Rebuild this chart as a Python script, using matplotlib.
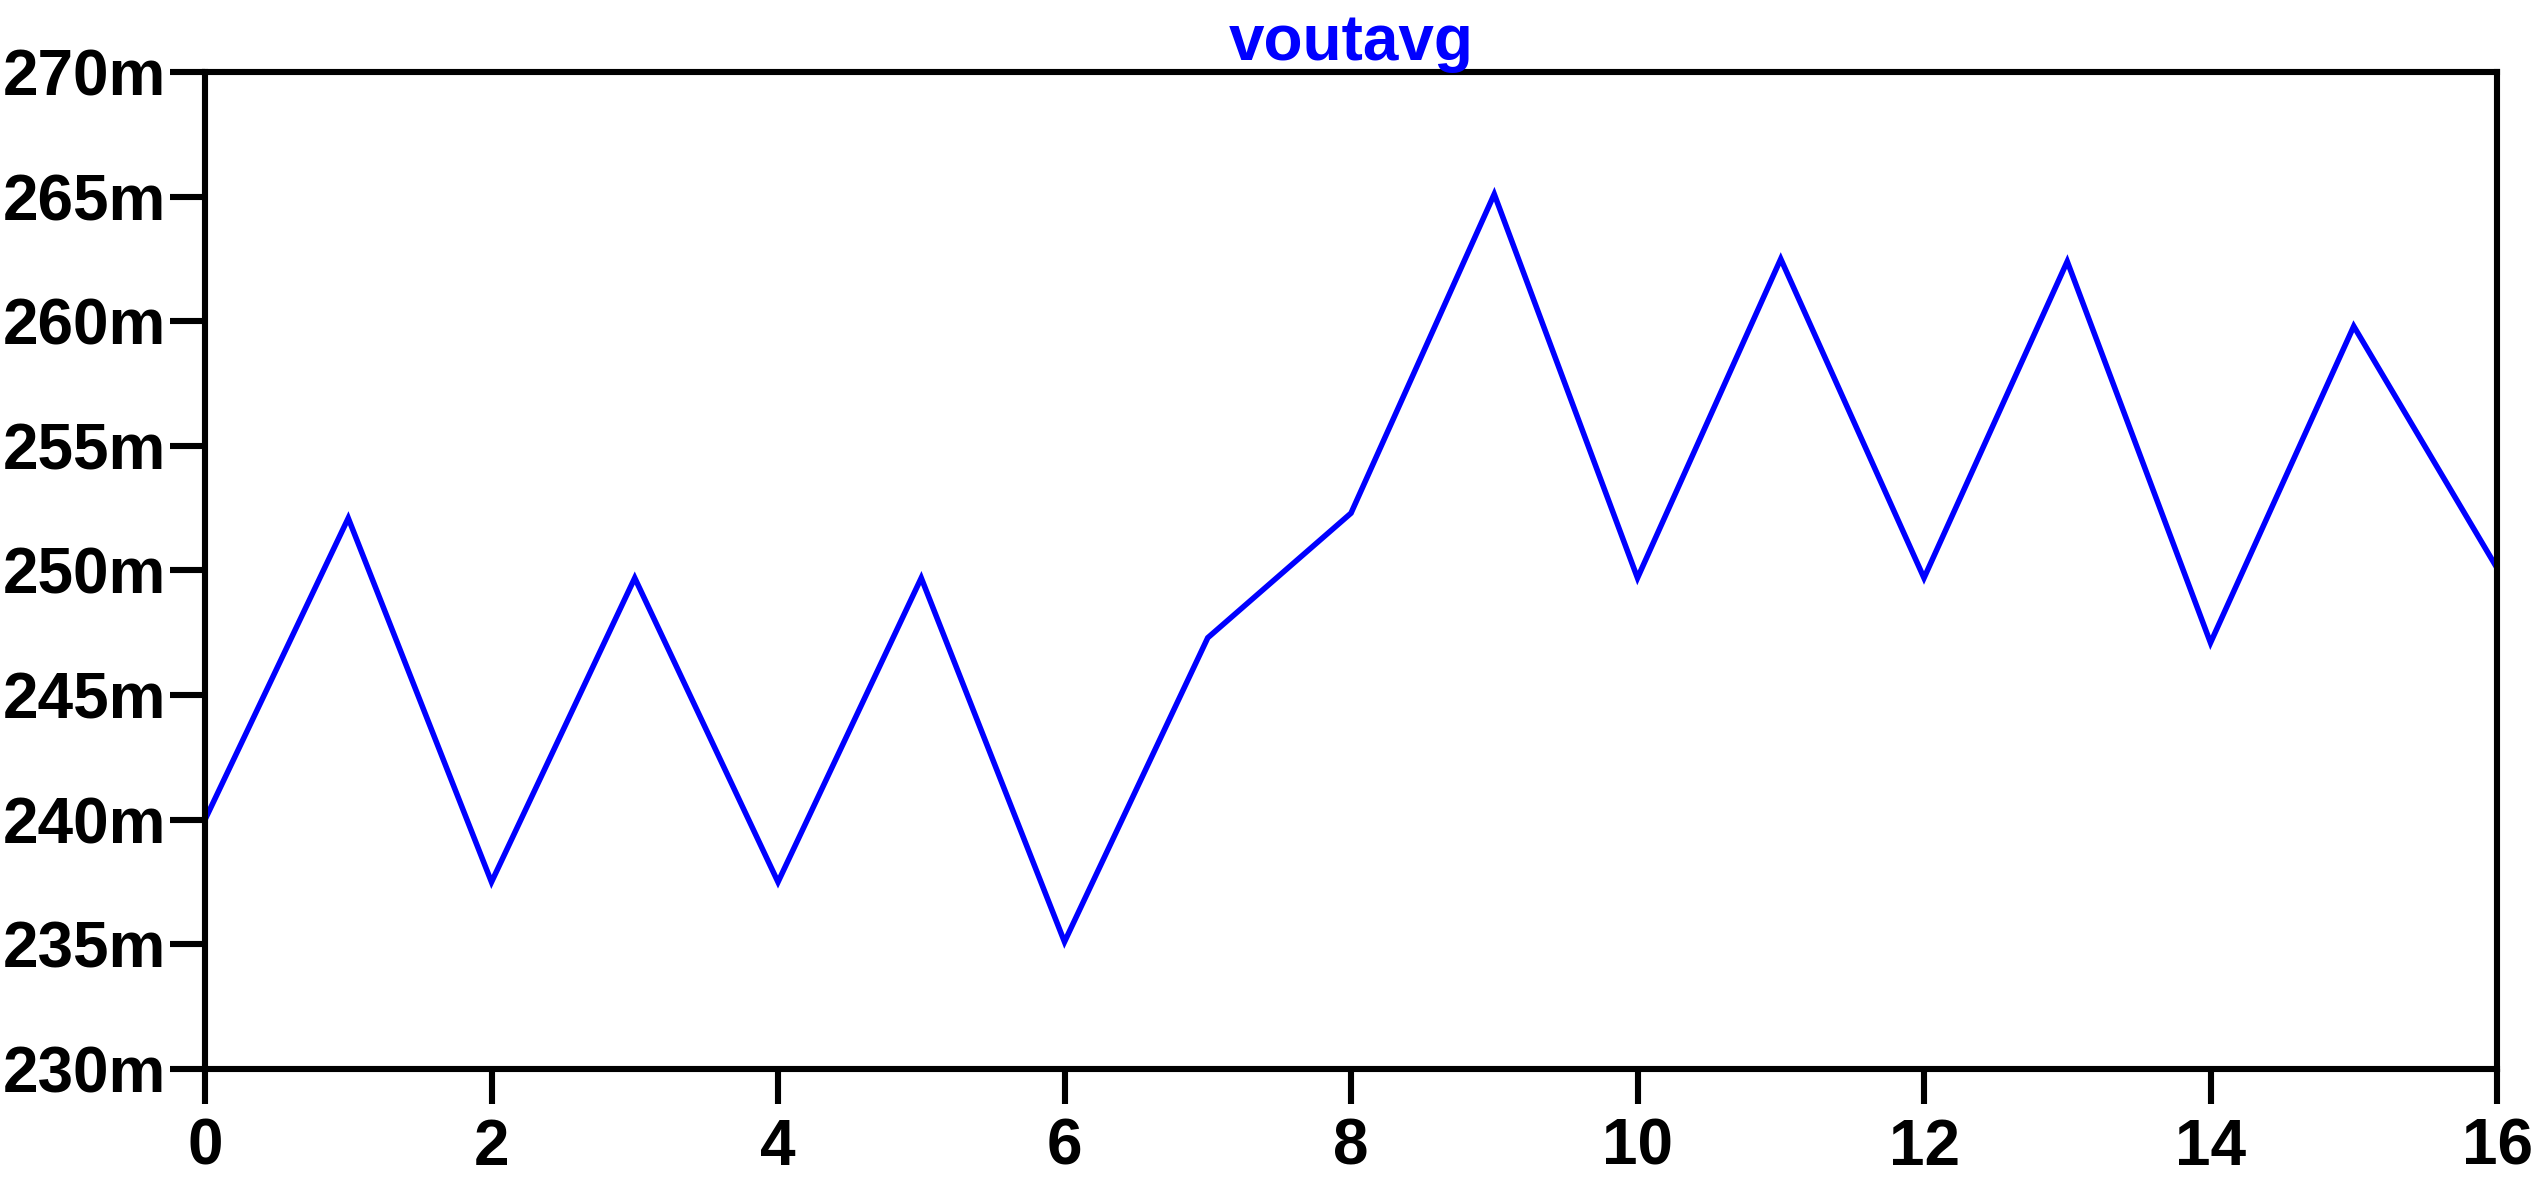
import matplotlib
matplotlib.use("Agg")
import matplotlib.pyplot as plt

# voutavg waveform points (V)
x = [0, 1, 2, 3, 4, 5, 6, 7, 8, 9, 10, 11, 12, 13, 14, 15, 16]
voutavg = [0.2400, 0.2521, 0.2375, 0.2497, 0.2375, 0.2497, 0.2351, 0.2473, 0.2523,
           0.2651, 0.2497, 0.2625, 0.2497, 0.2624, 0.2471, 0.2598, 0.2501]

xticks = [0, 2, 4, 6, 8, 10, 12, 14, 16]
yticks = [0.230, 0.235, 0.240, 0.245, 0.250, 0.255, 0.260, 0.265, 0.270]
ylabels = ["230m", "235m", "240m", "245m", "250m", "255m", "260m", "265m", "270m"]

plt.rcParams['font.family'] = ['Liberation Sans', 'DejaVu Sans']
plt.rcParams['font.weight'] = 'bold'

fig = plt.figure(figsize=(25.34, 11.77), dpi=100)
ax = fig.add_axes([0.0809, 0.0918, 0.9045, 0.847])

ax.plot(x, voutavg, color='#0000ff', lw=4.0, solid_joinstyle='miter')

ax.set_xlim(0, 16)
ax.set_ylim(0.230, 0.270)
ax.set_xticks(xticks)
ax.set_xticklabels([str(t) for t in xticks])
ax.set_yticks(yticks)
ax.set_yticklabels(ylabels)

for s in ax.spines.values():
    s.set_linewidth(4.4)
ax.tick_params(axis='both', length=25, width=4.4, direction='out', labelsize=46)
ax.tick_params(axis='y', pad=3)
ax.tick_params(axis='x', pad=10)
for lab in ax.get_xticklabels() + ax.get_yticklabels():
    lab.set_fontweight('bold')

# title sits just above the top frame line
ax.annotate("voutavg", xy=(0.5, 1.0), xycoords='axes fraction',
            xytext=(0, 9), textcoords='offset points',
            ha='center', va='baseline', color='#0000ff',
            fontsize=46, fontweight='bold')

fig.savefig("out.png", dpi=100, facecolor='white')
